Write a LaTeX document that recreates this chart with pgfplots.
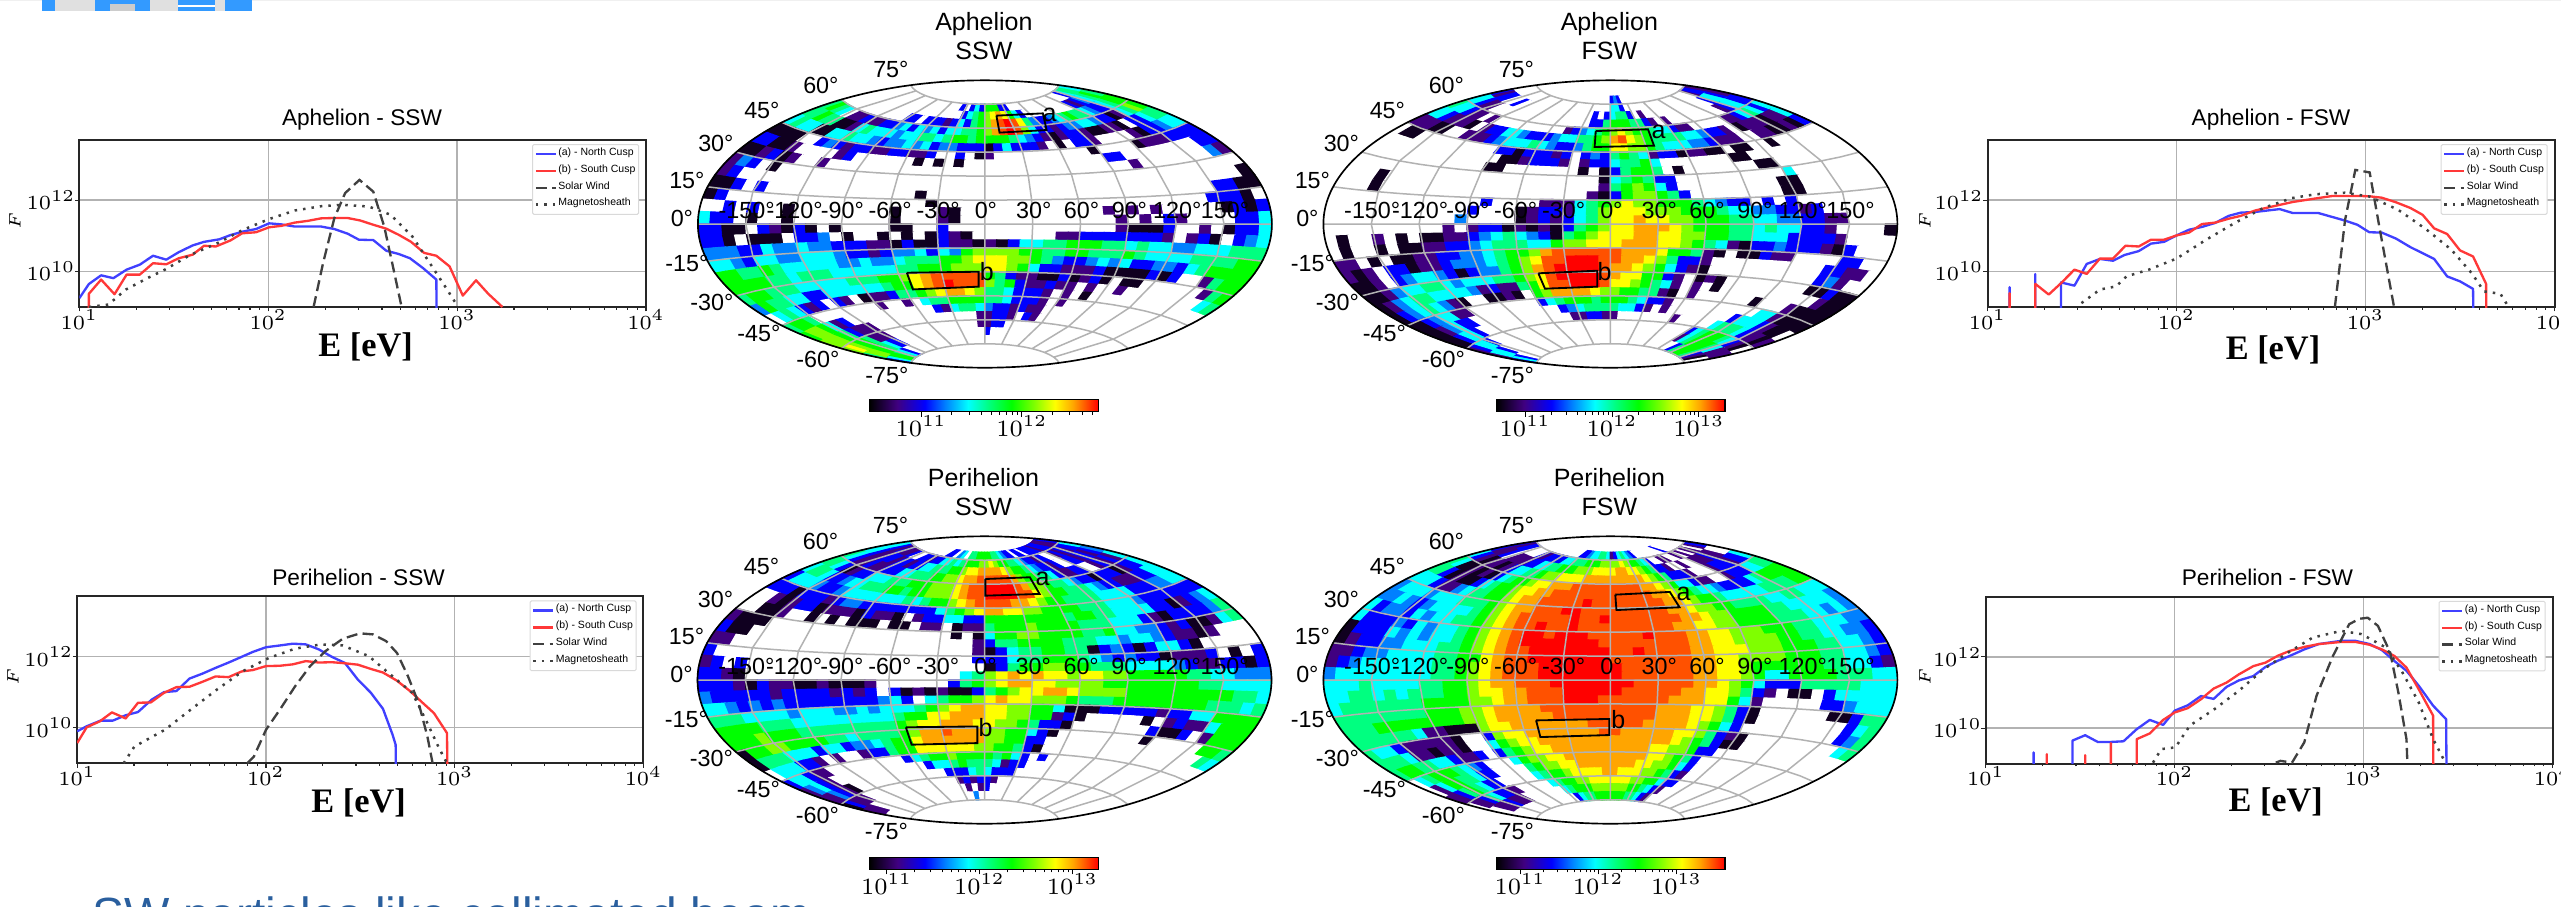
\documentclass[border=0pt]{standalone}
\usepackage{fontspec}
\usepackage{pgfplots}
\usepackage{pgfplotstable}
\pgfplotsset{compat=1.18}
\setmainfont{Liberation Sans}
\newfontfamily\ebold{Liberation Serif}[BoldFont={Liberation Serif Bold}]
\definecolor{gridg}{RGB}{178,178,178}
\definecolor{cbl}{RGB}{64,64,255}
\definecolor{crd}{RGB}{255,56,56}
\definecolor{cdk}{RGB}{64,64,64}
\definecolor{pp}{RGB}{64,0,128}
\definecolor{az}{RGB}{0,128,255}
\definecolor{sp}{RGB}{0,255,128}
\definecolor{lm}{RGB}{128,255,0}
\definecolor{og}{RGB}{255,165,0}
\definecolor{sw}{RGB}{42,95,158}
\pgfdeclarehorizontalshading{cbar}{100bp}{color(0bp)=(black); color(25bp)=(black); color(31bp)=(pp); color(37bp)=(blue); color(41.5bp)=(az); color(46.5bp)=(cyan); color(51bp)=(sp); color(56bp)=(green); color(61bp)=(lm); color(65.5bp)=(yellow); color(69.5bp)=(og); color(75bp)=(red); color(100bp)=(red)}
\pgfplotsset{colormap={lev}{rgb255=(255,255,255) rgb255=(16,0,32) rgb255=(64,0,128) rgb255=(0,0,255) rgb255=(0,128,255) rgb255=(0,255,255) rgb255=(0,255,128) rgb255=(0,255,0) rgb255=(128,255,0) rgb255=(255,255,0) rgb255=(255,165,0) rgb255=(255,80,0) rgb255=(255,0,0)}}
% Aitoff projection, normalised to the unit box: lon #1, lat #2
\def\aitxy#1#2{\pgfmathsetmacro\aC{min(0.99999,cos(#2)*cos(#1/2))}\pgfmathsetmacro\aA{acos(\aC)}\pgfmathsetmacro\aK{rad(\aA)/sin(\aA)}\pgfmathsetmacro\ax{2*cos(#2)*sin(#1/2)*\aK/pi}\pgfmathsetmacro\ay{2*sin(#2)*\aK/pi}}
% projected vertices of the 7.5 x 5 degree grid (one quadrant, the rest by symmetry)
\newcount\ci \newcount\cj
\ci=0
\loop
 {\cj=0
 \loop
  \aitxy{7.5*\the\ci}{5*\the\cj}%
  \expandafter\xdef\csname gx\the\ci,\the\cj\endcsname{\ax}%
  \expandafter\xdef\csname gy\the\ci,\the\cj\endcsname{\ay}%
  \advance\cj 1
 \ifnum\cj<17 \repeat}%
 \advance\ci 1
\ifnum\ci<25 \repeat
% graticule as one table, lines separated by nan
\newtoks\gtoks \gtoks{x y\\}
\def\gadd{\edef\tmp{\the\gtoks\ax\space\ay\noexpand\\}\gtoks\expandafter{\tmp}}
\def\gbreak{\gtoks\expandafter{\the\gtoks nan nan\\}}
\foreach \la in {-75,-60,-45,-30,-15,0,15,30,45,60,75}{\foreach \lo in {-180,-165,...,180}{\aitxy{\lo}{\la}\gadd\global\gtoks\gtoks}\gbreak\global\gtoks\gtoks}
\foreach \lo in {-150,-120,-90,-60,-30,0,30,60,90,120,150}{\foreach \la in {-75,-60,...,75}{\aitxy{\lo}{\la}\gadd\global\gtoks\gtoks}\gbreak\global\gtoks\gtoks}
\edef\tmp{\noexpand\pgfplotstableread[row sep=crcr]{\the\gtoks}\noexpand\gratT}\tmp
% ---- rows of colour levels (0 blank, 1 black ... 12 red); lon -180..180 in 7.5 deg, lat 80..-80 in 5 deg
\newcount\cellc \newcount\rowc \newtoks\ltoks
\def\Addcell#1{\ifnum\cellc<24 \def\sx{-}\ci=\numexpr24-\cellc\relax\else\def\sx{}\ci=\numexpr\cellc-24\relax\fi
 \ifnum\rowc>16 \def\sy{-}\cj=\numexpr\rowc-16\relax\else\def\sy{}\cj=\numexpr16-\rowc\relax\fi
 \edef\tmp{\the\ltoks\sx\csname gx\the\ci,\the\cj\endcsname\space\sy\csname gy\the\ci,\the\cj\endcsname\space #1\noexpand\\}\ltoks\expandafter{\tmp}\advance\cellc 1 }
\def\Rscan#1 {\ifx\relax#1\let\next\Rpad\else\ifnum\cellc<48 \Addcell{#1}\fi\let\next\Rscan\fi\next}
\def\Rpad{\ifnum\cellc<49 \Addcell{0}\expandafter\Rpad\else\advance\rowc 1 \fi}
\def\R#1{\cellc=0 \Rscan#1 \relax }
\def\Rstart{\ltoks{x y c\\}\rowc=0 }
\def\Rstore#1{\R{0}\edef\tmp{\noexpand\pgfplotstableread[row sep=crcr]{\the\ltoks}\noexpand#1}\tmp}
\Rstart
\R{0}
\R{0 0 0 0 0 0 0 0 0 0 0 0 0 0 0 0 0 0 0 3 0 3 5 3 7 7 7 3 3 0 0 0 0 0 0 0 0 0 0 0 0 0 0 3 5 6 6 5}
\R{0 0 0 0 0 0 0 0 0 0 0 0 0 0 0 0 0 0 0 0 3 5 6 7 8 9 10 9 7 5 3 0 0 0 0 0 0 0 0 0 3 2 3 4 5 6 7 6}
\R{0 0 0 0 0 0 0 0 0 0 0 0 3 3 0 3 3 3 2 3 5 3 6 7 8 10 11 12 11 9 6 4 3 3 4 5 6 7 6 6 5 4 3 3 5 6 7 7}
\R{6 7 6 5 0 2 2 3 2 2 3 3 4 5 3 5 4 5 3 5 5 6 6 7 8 10 11 12 11 8 5 3 3 2 3 4 4 5 5 4 3 3 1 2 5 6 8 7}
\R{6 6 7 6 6 1 1 2 5 6 5 5 5 4 5 5 6 6 5 6 7 7 6 7 7 7 7 6 5 4 3 2 1 2 3 3 2 1 1 2 2 1 0 3 3 5 6 6}
\R{5 6 5 5 1 1 5 5 6 5 5 4 3 4 4 5 4 5 3 4 4 3 3 3 1 3 5 3 3 3 2 0 1 0 3 3 2 0 0 0 0 2 1 3 3 4 5 5}
\R{1 1 1 1 0 0 3 4 3 2 3 3 2 2 3 3 2 2 3 0 0 3 0 1 2 0 0 0 0 0 0 0 0 0 0 1 0 0 0 0 1 2 2 2 3 3 3 3}
\R{3 3 1 1 2 0 0 0 0 2 3 0 0 0 0 0 0 1 0 1 0 1 0 0 0 0 0 0 0 0 0 0 0 0 0 0 3 3 0 0 0 0 0 0 0 0 3 3}
\R{1 1 2 3 1 2 0 0 2 0 0 0 0 0 0 0 0 0 0 0 0 0 0 0 0 0 0 0 0 0 0 0 0 0 0 0 0 0 2 0 0 0 0 0 0 0 4 2}
\R{2 4 3 0 1 0}
\R{2 3 0 0 0 0 0 0 0 0 0 0 0 0 0 0 0 0 0 0 0 0 0 0 0 0 0 0 0 0 0 0 0 0 0 0 0 0 0 0 0 0 0 0 0 0 0 1}
\R{1 1 3 0 3 0 0 0 0 0 0 0 0 0 0 0 0 0 1 0 0 0 0 0 0 0 0 0 0 0 0 0 0 0 0 0 0 0 0 0 0 0 0 0 3 3 1 1}
\R{1 3 0 0 0 0 0 0 0 0 0 0 0 0 0 0 0 0 0 1 0 0 0 0 0 0 0 0 0 0 0 0 0 0 0 0 0 0 0 0 0 0 0 3 3 3 1 0}
\R{0 0 3 0 3 0 0 1 0 0 0 0 0 0 0 0 1 0 0 0 2 1 0 0 0 0 0 0 0 0 0 0 0 0 2 0 2 0 2 0 0 0 0 0 1 3 1 3}
\R{5 3 3 0 1 0 0 1 0 0 0 0 0 0 0 0 1 0 0 0 2 1 0 0 0 0 0 0 0 0 0 0 0 0 0 2 0 2 0 3 2 0 0 0 0 3 3 5}
\R{3 3 1 1 0 3 2 1 3 1 0 1 0 0 0 0 1 1 0 0 3 0 0 0 0 0 0 0 0 0 0 0 0 0 0 2 1 1 1 3 0 0 2 0 1 3 3 5}
\R{3 3 1 0 1 1 1 0 3 3 4 0 1 0 0 1 0 1 0 1 3 2 1 0 0 0 0 0 0 0 2 2 3 3 3 3 3 3 3 2 0 2 3 1 0 3 4 5}
\R{4 4 4 3 3 5 4 4 5 4 4 3 3 3 2 2 1 3 1 1 3 2 2 1 2 1 3 5 5 6 6 7 7 7 6 6 5 6 5 5 4 4 5 5 5 6 6 6}
\R{5 5 4 3 5 5 4 4 5 5 5 4 3 3 2 3 4 4 5 3 5 4 7 8 8 8 8 7 7 6 6 7 7 6 6 6 7 6 5 5 5 5 6 6 6 6 7 7}
\R{7 7 6 6 7 6 5 5 5 5 5 4 4 5 4 4 5 6 6 6 7 7 8 9 9 9 8 8 7 6 4 3 3 4 5 4 5 3 3 4 4 3 5 6 7 7 7 7}
\R{7 7 7 7 6 6 5 6 6 6 5 5 5 5 5 5 6 6 7 7 7 8 8 8 9 9 8 7 5 3 3 2 2 2 3 1 1 1 1 3 1 3 0 0 2 6 7 7}
\R{6 7 7 6 6 6 5 5 5 5 5 6 6 6 7 7 8 9 10 11 11 11 11 11 7 6 3 2 2 1 1 3 1 2 3 1 0 1 1 0 0 0 0 0 0 2 6 7}
\R{4 7 6 6 5 5 3 3 5 5 5 5 5 5 6 7 7 9 10 11 12 11 11 11 8 6 7 3 2 2 3 2 2 0 2 0 0 2 0 0 0 0 0 0 0 0 5 6}
\R{0 5 6 5 3 2 3 0 3 2 0 1 2 2 3 6 6 7 8 9 10 10 9 8 6 6 5 3 3 3 2 0 2 0 1 0 0 0 0 0 0 0 0 0 0 0 0 0}
\R{6 7 7 6 0 0 0 0 0 0 0 0 2 0 0 2 0 5 6 6 7 7 7 7 6 6 5 3 3 3 2 0 2}
\R{7 8 8 7 5 2 3 0 0 0 0 0 0 0 0 0 0 0 3 2 5 6 6 5 4 3 3 2 3 2 2}
\R{8 8 8 7 6 3 2 2 2 0 0 0 0 0 0 0 0 0 0 0 0 0 0 2 2 3 3 2 0 3 2}
\R{8 9 8 7 7 6 2 2 2 0 0 0 0 0 0 0 0 0 0 0 0 0 0 2 2 3 3}
\R{6 8 8 7 7 6 5 3 3 0 0 0 0 0 0 0 0 0 0 0 0 0 0 0 3}
\R{3 5 7 7 6 5 3}
\R{0 3 6 7 5 3 0 0 0 0 0 0 0 0 0 0 0 0 0 0 0 0 0 0 0 0 0 0 0 0 0 0 0 3 3}
\Rstore{\mapA}
\Rstart
\R{0 0 0 0 0 0 0 0 0 0 0 0 0 0 0 0 0 0 0 0 0 0 0 0 3 4 3}
\R{0 0 0 0 0 0 0 0 0 0 0 0 0 0 0 0 0 0 0 0 0 0 0 0 5 5 3 0 0 0 0 0 0 0 0 0 0 0 0 0 0 0 0 0 2 3 3 2}
\R{3 2 3 3 0 0 3 0 0 0 0 0 0 0 0 0 0 0 0 0 0 3 0 3 5 6 6 3 0 2 0 0 0 0 0 0 0 0 0 0 0 0 0 3 5 5 3 2}
\R{5 5 3 2 2 0 0 0 0 0 0 0 0 0 0 0 0 0 0 0 0 3 3 6 7 7 7 6 6 3 2 0 2 0 0 0 0 0 0 0 0 0 2 3 5 5 3 3}
\R{6 5 5 3 2 2 0 2 0 0 0 0 0 0 0 0 0 0 2 3 4 5 6 7 8 9 8 7 7 6 5 5 3 2 2 0 0 0 0 0 2 2 3 5 6 5 3 5}
\R{5 5 3 2 2 2 1 0 2 3 3 5 5 4 3 3 3 4 5 5 6 6 7 8 10 11 9 8 7 6 6 6 6 5 5 4 3 3 2 0 1 2 2 2 1 2 2 5}
\R{2 2 2 1 1 0 0 2 2 2 3 4 5 5 5 6 5 4 3 3 4 6 7 7 9 9 8 8 7 6 5 5 5 4 4 3 2 2 2 0 0 2 2 1 1 2 1 3}
\R{0 1 1 0 0 0 0 0 0 0 0 0 3 3 1 3 3 3 2 3 0 3 4 3 6 7 6 5 2 3 3 1 2 2 1 1 0 1 1 0 0 1 0 0 0 0 0 0}
\R{0 0 0 0 0 0 0 0 0 0 0 0 0 1 1 2 3 3 3 2 0 2 3 3 5 6 6 7 5 0 0 0 0 0 0 0 1 1}
\R{0 0 0 0 0 0 0 0 0 0 0 0 1 1 0 0 0 0 0 0 0 1 0 1 3 6 7 7 6 0 1 0 0 0 0 0 0 0 1 1}
\R{0 0 0 0 0 0 0 0 0 0 0 0 0 0 0 0 0 0 0 0 0 0 0 1 5 6 7 6 3 3 0 0 0 0 0 0 0 0 0 0 5}
\R{0 0 0 1 0 0 0 0 0 0 0 0 0 0 0 0 0 0 0 0 0 0 0 2 6 7 8 7 5 3 0 0 0 0 0 0 0 0 0 1 1}
\R{0 0 0 1 0 0 0 0 0 0 0 0 0 0 0 0 0 0 0 0 0 0 2 1 3 7 8 8 7 6 3 0 0 0 0 0 0 0 0 1 1}
\R{0 0 0 0 0 0 0 0 0 0 0 0 0 3 0 0 0 0 2 2 2 5 6 7 8 9 8 8 7 7 7 6 5 4 3 3 0 3 0 3}
\R{0 0 0 0 0 0 0 0 0 0 0 0 3 0 0 0 1 2 3 3 2 5 6 8 9 9 9 8 8 8 7 7 7 6 5 5 4 4 3 3 2 3}
\R{0 0 0 0 0 0 0 0 0 0 0 4 0 0 0 0 1 2 3 2 3 5 6 8 9 9 10 9 9 8 8 7 7 7 6 6 5 5 4 4 3 3 2 2}
\R{0 0 0 0 0 0 0 0 0 0 2 0 2 3 3 1 2 1 2 1 3 6 7 8 9 9 10 10 10 9 8 7 7 7 6 6 5 6 5 5 3 3 2 0 0 0 0 1}
\R{0 1 0 0 2 0 1 0 1 1 2 2 3 4 5 6 5 4 3 1 6 7 8 9 9 9 10 10 9 9 8 8 7 7 6 6 5 5 5 3 3 3 3 2}
\R{0 1 0 0 1 0 1 1 2 2 3 3 4 5 6 6 6 5 5 7 8 8 9 9 9 10 10 10 9 9 8 7 6 5 2 1 3 3 4 3 3 3 2 1 3}
\R{2 2 0 1 0 1 1 2 2 3 3 4 4 5 6 7 7 8 10 11 11 11 11 11 11 10 10 10 9 7 7 6 2 1 0 1 1 3 2 2 0 0 0 0 3 3}
\R{2 1 2 0 3 3 1 2 2 3 4 4 4 5 6 7 8 9 11 11 12 12 12 11 11 10 10 9 8 6 3 3 2 0 0 0 0 0 0 0 0 0 0 3 3 2 2}
\R{1 1 2 0 3 4 5 5 4 3 1 3 4 4 6 7 8 10 11 12 12 12 12 11 10 10 9 8 7 5 3 2 1 0 0 0 0 0 0 0 0 0 0 3 4 2}
\R{1 1 2 4 5 5 6 6 5 4 5 5 5 6 6 7 8 9 11 12 12 12 12 11 10 9 9 7 7 3 2 0 1 2 1 0 0 0 0 0 0 0 0 1 1 3 1 1}
\R{1 2 4 5 6 6 5 5 5 5 4 2 3 2 2 6 7 9 11 11 12 12 12 11 9 9 8 7 6 5 2 0 2 0 1 0 0 0 0 0 0 0 0 0 0 2 1 1}
\R{1 3 4 5 6 5 4 2 1 0 0 1 1 2 1 0 7 8 10 10 10 10 9 8 8 7 7 6 6 2 1 0 2 0 0 0 0 0 0 1 0 0 0 2 1 1 1 1}
\R{1 1 3 4 5 5 2 2 0 0 0 0 0 0 0 0 3 5 6 7 7 7 6 7 7 7 6 5 3 3 2 0 0 0 0 0 0 0 0 0 0 5 5 2 1 1 1 1}
\R{1 1 2 4 5 3 3 0 0 0 0 0 0 0 0 0 0 0 3 4 5 6 6 6 6 5 5 3 2 0 2 0 0 0 0 0 0 0 0 3 5 5 5 3 2 1 1 0}
\R{1 1 3 5 5 3 0 0 0 0 0 0 0 0 0 0 0 0 0 2 2 3 3 2 2 0 0 0 0 0 0 0 2 0 0 0 0 0 5 6 6 6 5 3 2 2 1 2}
\R{2 3 5 5 3 0 0 0 0 0 0 0 0 0 0 0 0 0 0 0 0 0 0 0 0 0 0 0 0 0 0 0 0 0 0 0 3 5 6 7 7 7 6 5 3 2 1 0}
\R{2 5 5 3 0 0 0 0 0 0 0 0 0 0 0 0 0 0 0 0 0 0 0 0 0 0 0 0 0 0 0 0 0 0 0 0 2 5 6 7 7 7 7 6 5 2 2 2}
\R{3 5 3 0 0 0 0 0 0 0 0 0 0 0 0 0 0 0 0 0 0 0 0 0 0 0 0 0 0 0 0 0 0 0 0 0 0 0 3 6 7 7 7 6 3 2 1 0}
\R{0 0 0 0 0 0 0 0 0 0 0 0 0 0 0 0 0 0 0 0 0 0 0 0 0 0 0 0 0 0 0 0 0 0 0 0 0 0 0 0 2 2 7 6 3}
\Rstore{\mapB}
\Rstart
\R{0 0 0 0 0 0 0 0 0 0 0 0 0 0 3 3 0 4 5 0 6 6 7 7 7 7 6 6 5 4 3 3 0 3 3 0 3 3 3 3 2 3 3 3 2 2 2 3}
\R{5 5 3 2 3 2 2 3 0 0 3 3 2 3 3 5 5 6 5 6 7 7 7 8 8 9 8 7 7 6 6 5 4 3 3 2 3 3 0 0 2 3 2 3 2 3 3 5}
\R{5 5 3 2 2 3 3 2 3 3 2 3 3 5 5 6 6 6 7 7 8 9 9 10 10 10 10 9 8 7 7 6 5 4 3 3 2 3 0 0 3 3 2 3 3 2 3 4}
\R{6 5 3 2 2 3 2 2 3 3 3 5 5 6 6 6 7 7 8 8 9 10 10 11 11 11 11 11 10 8 7 7 6 6 5 3 2 2 3 3 0 0 2 3 2 3 2 5}
\R{6 6 5 3 1 2 3 3 5 5 5 6 6 6 7 7 7 8 8 8 9 10 11 11 12 12 12 12 11 10 8 8 7 6 6 5 4 3 3 1 3 3 3 1 2 3 3 5}
\R{5 6 6 5 3 3 4 5 5 6 6 6 7 7 6 7 7 8 8 8 9 10 11 11 12 12 12 12 11 11 9 8 7 7 6 6 6 5 4 3 3 2 2 2 3 3 5 5}
\R{3 5 5 5 4 3 3 4 5 5 5 5 5 5 5 6 5 6 7 7 8 9 10 11 11 11 11 10 10 9 8 7 7 6 6 6 6 5 5 5 5 3 3 3 4 4 5 5}
\R{3 3 3 1 3 3 3 2 3 4 4 3 3 3 3 3 3 3 3 5 6 7 8 9 10 10 9 9 8 8 7 7 7 7 6 6 6 5 5 5 4 3 3 3 3 3 3 3}
\R{0 0 2 1 2 3 3 1 2 2 2 1 3 2 2 1 0 2 3 3 5 5 3 3 7 7 7 7 7 7 7 7 6 7 7 6 6 5 5 5 5 3 3 1 2 3 4 5}
\R{0 0 1 1 2 0 0 1 0 1 0 1 1 1 0 1 1 0 2 2 0 1 2 2 6 7 7 7 8 7 7 7 7 6 6 6 5 5 5 3 2 1 3 3 3 3 4 6}
\R{2 1 1 1 0 0 0 0 0 0 0 0 0 0 0 0 0 0 0 0 0 1 0 1 5 7 7 8 8 7 7 7 7 6 6 7 5 5 4 4 3 2 3 1 1 2 5 6}
\R{3 1 1 0 0 0 0 0 0 0 0 0 0 0 0 0 0 0 0 0 0 0 0 2 3 6 6 7 7 7 7 6 6 6 5 5 4 5 5 4 3 2 2 1 2}
\R{2 2 0 0 0 0 0 0 0 0 0 0 0 0 0 0 0 0 0 0 0 0 0 2 1 3 5 6 6 7 7 6 6 1 3 4 3 1 3 5 5 3 1}
\R{3 0 0 0 0 0 0 0 0 0 0 0 0 0 0 0 0 0 0 0 0 0 0 3 3 3 5 6 6 7 7 7 6 5 4 3 4 3 3 1 2 2 2 3 0 1 0 3}
\R{2 3 0 3 0 0 0 0 0 0 0 0 0 0 0 0 0 0 0 0 0 0 0 0 1 3 6 7 7 8 8 7 7 6 6 6 5 5 5 5 4 3 2 2 3 3 1 3}
\R{3 3 2 1 0 0 0 0 0 0 0 0 0 0 0 0 0 0 0 0 0 0 5 6 8 9 10 9 10 9 9 8 9 9 8 8 7 7 7 7 7 6 6 5 5 4 4 4}
\R{3 3 3 2 1 3 2 2 1 1 2 1 1 1 2 0 0 0 0 0 0 3 6 7 8 9 10 10 9 9 8 8 8 8 7 7 7 7 7 7 7 7 6 6 5 5 5 5}
\R{4 3 3 3 3 3 2 3 3 3 3 2 3 2 3 0 3 1 2 1 2 1 1 3 6 7 8 9 9 10 10 9 8 8 8 8 7 7 7 7 7 7 7 7 7 6 6 5}
\R{5 5 4 3 4 3 4 3 3 3 3 3 3 3 3 4 5 3 0 5 6 7 7 8 9 10 9 9 8 8 8 7 6 6 6 7 7 7 7 7 7 7 7 6 6 6 5 6}
\R{6 6 6 5 5 5 5 4 5 5 5 4 4 5 4 5 5 5 6 7 8 9 10 10 9 9 8 8 7 7 5 1 1 1 3 3 3 3 3 2 3 3 5 5 7 7 7 7}
\R{7 7 7 7 6 6 6 5 5 5 5 5 5 5 5 5 6 7 7 9 9 10 10 10 9 9 8 8 7 7 2 3 1 0 0 0 0 0 1 0 2 3 2 2 5 7 7 7}
\R{7 7 7 8 7 7 7 6 6 6 6 6 6 6 6 6 7 8 9 9 10 10 10 9 9 8 8 7 6 3 3 1 0 0 0 0 0 0 0 3 1 1 3 0 2 7 7 7}
\R{1 7 7 8 8 7 7 7 7 6 6 5 6 6 6 6 7 8 10 10 11 10 10 10 8 8 7 7 5 3 1 0 0 0 0 0 0 0 0 1 0 0 0 0 0 7 7 6}
\R{1 6 6 6 5 5 5 3 5 5 3 4 4 5 6 7 7 9 10 10 10 10 10 10 8 8 7 7 3 3 0 0 0 0 0 0 0 0 0 0 0 0 0 0 0 0 6 5}
\R{0 5 5 5 3 3 2 0 2 0 0 2 3 3 6 7 7 9 9 9 9 9 9 8 8 7 7 6 3 1}
\R{3 5 5 3 2 2 0 0 0 0 0 0 0 0 0 3 5 6 7 7 8 7 7 7 7 6 7 5 3 0 3}
\R{2 4 5 3 2 0 0 0 0 0 0 0 0 0 0 0 0 3 5 5 6 7 6 6 6 5 2 3 3}
\R{2 2 4 3 2 1 0 0 0 0 0 0 0 0 0 0 0 0 0 3 3 3 5 6 5 3 3 3}
\R{1 3 2 2 2 0 0 0 0 0 0 0 0 0 0 0 0 0 0 0 2 3 2 3 3 2}
\R{2 2 2 0 0 0 0 0 0 0 0 0 0 0 0 0 0 0 0 0 0 2 0 2 3}
\R{0 0 0 0 0 0 0 0 0 0 0 0 0 0 0 0 0 0 0 0 0 0 4}
\R{0}
\Rstore{\mapC}
\Rstart
\R{0 0 0 0 0 0 0 0 0 0 0 0 0 0 0 0 3 3 4 5 5 6 6 5 2 3 5 6 5 4 3 0 0 0 0 0 0 0 0 3}
\R{3 2 3 3 0 0 0 0 3 2 3 3 3 3 5 5 6 6 6 7 7 7 8 8 8 8 9 8 7 7 6 5 3 0 0 2 2 0 0 2 0 2 0 2 2 0 2 3}
\R{3 2 2 3 0 2 2 2 2 3 3 5 5 6 6 7 7 7 8 8 8 9 9 9 9 10 10 9 9 8 7 6 3 3 2 0 0 2 0 0 2 2 2 3 2 2 0 0}
\R{5 3 2 1 2 2 1 2 3 5 5 6 6 7 8 8 9 9 9 9 10 10 10 10 10 10 10 10 10 9 8 7 6 3 3 3 2 0 0 0 2 3 3 3 2 3 3 5}
\R{6 5 1 1 2 1 2 1 3 5 6 7 7 8 9 9 10 10 10 11 11 11 11 11 11 11 11 11 10 10 9 8 7 5 5 3 2 2 0 0 2 3 3 3 5 5 6 6}
\R{6 6 3 1 2 1 1 3 5 6 7 7 8 9 9 10 10 11 11 11 11 11 11 11 11 11 11 11 11 10 10 9 8 7 6 5 5 4 3 3 3 3 5 6 7 7 7 7}
\R{5 5 5 3 2 2 4 5 6 6 7 7 8 9 10 10 11 11 11 11 11 12 11 11 11 11 11 11 11 11 10 10 9 8 7 7 6 5 5 5 5 5 6 6 6 6 7 7}
\R{4 5 5 5 4 5 5 5 6 6 6 7 8 9 10 10 11 11 11 12 12 11 11 11 11 11 11 11 11 11 10 10 9 8 8 7 7 6 6 6 6 5 5 6 6 5 5 5}
\R{4 4 5 4 3 4 5 5 5 5 6 7 8 9 10 11 11 11 11 11 12 11 11 12 11 11 11 11 11 11 11 10 10 9 8 8 7 7 7 7 6 6 5 5 5 5 5 4}
\R{5 3 4 4 3 5 4 5 5 6 6 7 8 9 10 11 11 12 11 11 12 11 11 11 11 11 11 11 11 11 10 10 9 9 8 8 7 7 7 7 6 6 6 5 5 4 5 4}
\R{5 3 3 3 4 3 5 4 5 5 6 7 8 9 10 11 12 12 11 12 12 12 11 11 11 11 11 12 11 11 11 10 10 9 9 8 8 8 7 7 7 6 6 5 5 5 4 4}
\R{1 3 3 3 5 4 5 4 5 5 6 7 8 9 10 11 12 12 12 12 12 12 12 11 11 11 11 11 11 11 11 10 10 9 9 8 8 8 8 7 7 6 6 5 5 4 4 3}
\R{1 2 3 3 4 4 5 5 5 6 6 7 8 9 10 11 11 12 12 12 12 12 12 12 11 11 12 11 11 11 11 10 10 9 9 9 8 8 8 7 7 7 6 6 5 5 4 3}
\R{2 2 3 4 4 5 5 5 5 6 6 7 7 9 10 11 11 12 12 12 12 12 12 12 11 11 11 11 11 11 11 10 10 9 9 8 8 8 8 7 7 7 6 6 5 5 4 3}
\R{2 3 4 5 5 5 5 5 5 6 6 7 8 9 10 11 11 11 12 12 12 12 12 12 12 11 11 11 11 11 11 10 10 9 9 8 7 7 7 7 7 7 6 6 5 5 3 2}
\R{4 5 5 5 5 5 5 5 5 6 6 7 8 9 10 11 11 11 12 12 12 12 12 12 12 11 11 11 11 11 11 10 10 9 9 8 7 5 5 7 7 7 7 6 6 6 5 5}
\R{5 5 5 6 5 5 5 5 6 6 7 7 8 9 10 10 11 11 11 12 12 12 12 12 12 12 11 11 11 11 11 10 10 9 8 7 5 3 3 3 6 6 6 6 6 5 5 5}
\R{5 5 6 6 5 6 5 6 6 6 7 7 8 9 9 10 10 11 11 11 12 12 12 12 12 11 11 11 11 11 10 10 9 9 8 6 3 2 0 1 1 0 3 5 5 5 5 5}
\R{5 6 6 6 6 6 6 6 7 7 7 7 8 8 9 10 10 11 11 11 12 12 12 11 11 11 11 11 11 10 10 10 9 9 7 5 2 0 0 0 0 0 3 3 4 5 5 5}
\R{6 6 6 6 6 6 6 6 7 7 7 8 8 9 10 10 10 10 11 11 11 11 11 11 11 11 11 11 10 10 10 9 9 8 6 3 1 0 0 0 0 0 0 1 1 3 6 6}
\R{6 6 6 7 7 7 7 7 7 7 7 8 8 9 10 10 10 10 10 11 11 11 11 11 11 11 11 11 10 10 10 9 9 8 6 3 1 0 0 0 0 0 0 0 0 3 5 6}
\R{6 6 6 6 6 6 5 2 2 1 1 1 8 9 9 10 10 10 10 10 10 10 11 11 11 11 11 10 10 10 10 9 8 7 5 3 0 0 0 0 0 0 0 0 0 3 4 6}
\R{6 5 5 3 2 2 2 2 2 1 0 0 3 8 9 9 10 10 10 10 10 10 10 11 11 10 10 10 10 10 9 9 8 6 3 2 1 0 0 0 0 0 0 0 0 0 5 6}
\R{6 6 6 5 2 2 1 2 2 1 0 0 5 7 8 9 9 10 10 10 10 10 10 10 10 10 10 10 10 10 9 8 7 6 3 1 1}
\R{6 7 7 6 6 5 5 3 2 2 3 0 3 6 7 8 9 9 10 10 10 10 10 10 10 10 10 10 9 9 8 8 7 3 3}
\R{0 5 6 7 7 7 6 5 4 3 0 0 0 5 7 8 8 9 9 10 10 10 10 10 10 10 10 10 9 9 8 7 6 3}
\R{0 2 5 7 7 6 6 5 3 3 0 0 0 0 6 7 8 8 9 9 10 10 10 10 10 10 10 9 9 8 8 7 5 3}
\R{2 2 3 6 7 6 5 3 3 0 0 0 0 0 5 6 7 7 8 9 9 9 9 10 10 9 9 9 8 8 7 6 3 2}
\R{0 2 2 3 6 5 3 3 2 2 0 0 0 0 0 5 6 7 7 8 8 9 9 9 9 9 9 8 8 7 7 5 3 3}
\R{0 0 2 2 2 3 2 2 2 0 0 0 0 0 0 0 5 6 7 7 7 8 8 8 8 8 8 7 7 6 5 3 2}
\R{0 0 0 0 0 0 0 0 0 0 0 0 0 0 0 0 0 3 5 6 6 7 7 7 7 7 7 6 6 5 3 2}
\R{0 0 0 0 0 0 0 0 0 0 0 0 0 0 0 0 0 0 0 3 3 5 5 6 6 5 5 3 3}
\Rstore{\mapD}
\pgfplotsset{
 table/lg/.style={header=false,x expr={pow(10,\thisrowno{0})},y expr={pow(10,\thisrowno{1})}},
 serbl/.style={color=cbl,line width=.7pt,line join=round},
 serrd/.style={color=crd,line width=.7pt,line join=round},
 serdk/.style={color=cdk,line width=.7pt,dash pattern=on 3.3pt off 1.6pt},
 serdt/.style={color=cdk,line width=.75pt,dash pattern=on .75pt off 1.8pt},
}
\newcommand\LA[3]{\begin{axis}[at={(#2*0.3pt,-#3*0.3pt)},anchor=south west,scale only axis,width=#1*0.3pt,height=167*0.3pt,
  xmode=log,ymode=log,xmin=10,xmax=10000,ymin=1e9,ymax=4.9e13,
  xtick={10,100,1000,10000},ytick={1e10,1e12},yminorticks=false,
  xtick pos=left,ytick pos=left,
  grid=major,grid style={color=gridg,line width=.45pt},
  axis line style={line width=.6pt,color=black!85},
  tick align=outside,tick style={color=black!85,line width=.35pt},
  major tick length=1.3pt,minor tick length=.8pt,
  tick label style={font=\fontsize{6.4}{7}\selectfont},
  xticklabel style={yshift=.6pt},yticklabel style={xshift=.3pt},
  legend cell align=left,
  legend image code/.code={\draw[##1] (0pt,0pt) -- (6pt,0pt);},
  legend style={at={(0.988,0.975)},anchor=north east,font=\fontsize{3.15}{3.7}\selectfont,
   draw=black!15,fill=white,rounded corners=.4pt,line width=.3pt,row sep=.45pt,inner sep=.6pt,
   nodes={inner sep=.4pt}}]}
\newcommand\CB[4]{\begin{axis}[at={(#3*0.3pt,-#4*0.3pt)},anchor=south west,scale only axis,width=228.5*0.3pt,height=12*0.3pt,
  xmode=log,xmin=#1,xmax=#2,ytick=\empty,ymin=0,ymax=1,
  axis background/.style={shading=cbar},
  xtick={1e11,1e12,1e13},tick align=outside,xtick pos=left,
  axis line style={line width=.45pt},tick style={line width=.3pt,color=black},
  major tick length=1.5pt,minor tick length=.9pt,
  tick label style={font=\fontsize{6.6}{7}\selectfont},xticklabel style={yshift=.4pt}]\end{axis}}
\newcommand\EV[2]{\node at (#1,#2) {\ebold\bfseries\fontsize{10.3}{12}\selectfont E [eV]};}
\newcommand\LT[3]{\node at (#1,#2) {\fontsize{6.8}{8}\selectfont #3};}
\newcommand\FL[2]{\node[rotate=90] at (#1,#2) {\fontsize{5}{6}\selectfont $F$};}
% one Aitoff map: centre x, centre y, table, two title lines, box a, label a, box b, label b
\newcommand\drawmap[9]{%
\begin{axis}[at={(#1*0.3pt,-#2*0.3pt)},anchor=center,scale only axis,width=574*0.3pt,height=287.4*0.3pt,
  xmin=-1,xmax=1,ymin=-1,ymax=1,hide axis,clip=false,colormap name=lev,
  point meta min=0,point meta max=12]
 \addplot[surf,shader=flat corner,mesh/cols=49,mesh/ordering=x varies,mesh/check=false,point meta=explicit]
   table[x=x,y=y,meta=c]{#3};
 \addplot[color=gridg,line width=.45pt,unbounded coords=jump] table[x=x,y=y]{\gratT};
 \draw[line width=.5pt] (axis cs:0,0) ellipse [x radius=1,y radius=1];
 \addplot[black,line width=.55pt] coordinates {#6};
 \addplot[black,line width=.55pt] coordinates {#8};
 \node[font=\fontsize{7.5}{8}\selectfont] at (axis cs:#7) {a};
 \node[font=\fontsize{7.5}{8}\selectfont] at (axis cs:#9) {b};
\end{axis}
\node[align=center,font=\fontsize{7.5}{8.6}\selectfont] at (#1-1,#2-188) {#4\\#5};
\foreach \dx/\dy/\t in {-94/-155/75,-164/-139/60,-223/-114/45,-269/-81/30,-298/-44/15,-303/-6/0,-298/39/-15,-273/78/-30,-226/109/-45,-167/135/-60,-98/151/-75}
 {\node[font=\fontsize{7}{8}\selectfont] at (#1+\dx,#2+\dy) {\t°};}
\foreach \lo in {-150,-120,-90,-60,-30,0,30,60,90,120,150}
 {\node[font=\fontsize{7}{8}\selectfont] at ({#1+\lo*1.5944+1},#2-14) {\lo°};}
}
\begin{document}
\begin{tikzpicture}[x=0.3pt,y=-0.3pt,inner sep=0pt]
\path[use as bounding box] (0,0) rectangle (2561,906);
\clip (0,0) rectangle (2561,906);
\fill[black!6] (0,0) rectangle (2561,1);
% logo remnant
\fill[az!80] (42,0) rectangle (252,11);
\fill[black!12] (55,0) rectangle (95,11);
\fill[black!20] (110,4) rectangle (135,11);
\fill[black!12] (150,0) rectangle (178,11);
\fill[white] (178,5) rectangle (215,7);
\fill[black!12] (215,0) rectangle (225,11);
\node[anchor=base west,text=sw,font=\fontsize{14.4}{16}\selectfont] at (92,931) {SW particles like collimated beam};
%
\LA{566.6}{79.4}{307}
\addplot[serbl] table[lg]{
1.00 9.25
1.05 9.645
1.115 9.89
1.18 9.81
1.25 10.05
1.32 10.19
1.39 10.44
1.46 10.33
1.526 10.54
1.60 10.73
1.66 10.83
1.74 10.90
1.80 11.02
1.867 11.12
1.935 11.19
2.005 11.35
2.07 11.32
2.14 11.26
2.21 11.26
2.28 11.26
2.35 11.19
2.42 11.06
2.48 10.89
2.556 10.88
2.625 10.58
2.69 10.49
2.75 10.37
2.82 10.09
2.89 9.77
2.892 8
};
\addplot[serrd] table[lg]{
1.05 8
1.05 9.37
1.115 9.77
1.186 9.36
1.25 9.91
1.32 9.91
1.39 10.23
1.46 10.20
1.526 10.37
1.60 10.47
1.66 10.72
1.722 10.70
1.80 10.87
1.862 11.07
1.935 11.10
2.005 11.24
2.07 11.28
2.14 11.37
2.21 11.42
2.28 11.49
2.35 11.50
2.42 11.50
2.487 11.43
2.556 11.31
2.625 11.20
2.69 11.03
2.756 10.83
2.825 10.52
2.89 10.44
2.96 10.14
3.03 9.32
3.10 9.75
3.165 9.37
3.24 9.0
};
\addplot[serdk] table[lg]{
2.24 9.0
2.29 10.23
2.35 11.5
2.407 12.2
2.483 12.57
2.556 12.24
2.614 11.26
2.66 10.14
2.706 9.0
};
\addplot[serdt] table[lg]{
1.05 9.0
1.154 9.07
1.246 9.49
1.36 9.81
1.453 10.05
1.59 10.47
1.73 10.79
1.867 11.17
2.005 11.47
2.14 11.71
2.28 11.83
2.395 11.87
2.533 11.82
2.648 11.59
2.763 10.98
2.878 10.05
2.947 9.49
3.005 9.0
};
\legend{(a) - North Cusp,(b) - South Cusp,Solar Wind,Magnetosheath}
\end{axis}
\LT{362}{120}{Aphelion - SSW}\EV{365.6}{347}\FL{15}{221}
%
\LA{567}{1987.5}{307}
\addplot[serbl] table[lg]{
1.117 8
1.117 9.56
1.117 8
1.253 8
1.253 9.925
1.253 8
1.389 8
1.389 9.69
1.46 9.60
1.525 10.21
1.595 10.35
1.664 10.30
1.724 10.46
1.80 10.57
1.865 10.78
1.934 10.83
2.0 11.01
2.066 11.17
2.135 11.25
2.204 11.36
2.276 11.56
2.34 11.65
2.416 11.67
2.546 11.75
2.615 11.64
2.75 11.64
2.89 11.43
2.957 11.31
3.02 11.10
3.086 11.09
3.162 10.92
3.238 10.68
3.363 10.35
3.432 9.86
3.50 9.72
3.569 9.51
3.573 8
};
\addplot[serrd] table[lg]{
1.117 8
1.117 9.39
1.117 8
1.253 8
1.253 9.65
1.324 9.35
1.389 9.67
1.46 10.05
1.525 9.93
1.595 10.36
1.664 10.36
1.73 10.72
1.80 10.70
1.865 10.89
1.934 10.89
2.0 11.01
2.066 11.09
2.135 11.33
2.204 11.37
2.276 11.48
2.34 11.56
2.416 11.71
2.48 11.79
2.615 11.95
2.75 12.06
2.827 12.12
2.957 12.12
3.02 12.11
3.086 12.07
3.162 11.94
3.238 11.78
3.302 11.59
3.363 11.21
3.432 11.05
3.50 10.59
3.569 10.42
3.638 9.65
3.64 8
};
\addplot[serdk] table[lg]{
2.838 9.0
2.892 11.45
2.946 12.85
3.022 12.78
3.076 11.17
3.151 9.0
};
\addplot[serdt] table[lg]{
1.497 9.11
1.595 9.49
1.681 9.58
1.735 9.86
1.854 10.05
2.0 10.36
2.157 10.89
2.308 11.36
2.459 11.78
2.611 12.06
2.74 12.17
2.892 12.21
3.022 12.10
3.173 11.73
3.324 11.17
3.454 10.61
3.562 9.95
3.627 9.44
3.714 9.37
3.757 9.0
};
\legend{(a) - North Cusp,(b) - South Cusp,Solar Wind,Magnetosheath}
\end{axis}
\LT{2271}{120}{Aphelion - FSW}\EV{2273}{350}\FL{1925}{221}
%
\LA{566.3}{77.2}{763.3}
\addplot[serbl] table[lg]{
1.0 9.90
1.05 10.04
1.124 10.2
1.189 10.2
1.257 10.35
1.322 10.44
1.395 10.79
1.46 11.0
1.526 11.03
1.595 11.38
1.664 11.52
1.733 11.68
1.802 11.83
1.871 11.99
1.931 12.13
2.0 12.26
2.074 12.31
2.143 12.36
2.211 12.34
2.28 12.2
2.349 11.99
2.418 11.82
2.487 11.35
2.556 10.98
2.62 10.53
2.671 9.80
2.687 9.52
2.69 8
};
\addplot[serrd] table[lg]{
1.0 9.57
1.05 10.01
1.12 10.18
1.184 10.43
1.257 10.26
1.322 10.70
1.39 10.71
1.46 10.98
1.526 11.14
1.595 11.15
1.664 11.29
1.733 11.44
1.802 11.42
1.871 11.58
1.931 11.62
2.0 11.73
2.074 11.74
2.143 11.78
2.211 11.87
2.28 11.83
2.349 11.84
2.418 11.81
2.487 11.77
2.556 11.65
2.62 11.55
2.694 11.32
2.763 11.03
2.832 10.69
2.89 10.41
2.959 9.85
2.963 8
};
\addplot[serdk] table[lg]{
1.901 9
1.936 9.19
2 9.94
2.074 10.51
2.154 11.16
2.234 11.73
2.315 12.15
2.407 12.5
2.499 12.65
2.568 12.62
2.637 12.43
2.694 12.1
2.752 11.45
2.809 10.69
2.855 9.76
2.883 9
};
\addplot[serdt] table[lg]{
1.246 9
1.303 9.47
1.464 9.94
1.602 10.51
1.74 11.07
1.878 11.59
2.016 11.96
2.154 12.22
2.292 12.34
2.407 12.31
2.545 12.01
2.66 11.49
2.775 10.98
2.855 10.13
2.913 9.47
2.959 9
};
\legend{(a) - North Cusp,(b) - South Cusp,Solar Wind,Magnetosheath}
\end{axis}
\LT{358.6}{577}{Perihelion - SSW}\EV{358.6}{803}\FL{13}{677}
%
\LA{566.7}{1985.8}{763.7}
\addplot[serbl] table[lg]{
1.253 8
1.253 9.32
1.253 8
1.459 8
1.459 9.65
1.526 9.80
1.593 9.61
1.658 9.61
1.729 9.63
1.799 9.97
1.868 10.23
1.939 10.09
2.0 10.49
2.069 10.64
2.139 10.90
2.206 10.82
2.275 11.16
2.34 11.34
2.416 11.46
2.481 11.72
2.545 11.89
2.61 12.03
2.686 12.21
2.762 12.36
2.881 12.45
2.957 12.45
3.032 12.36
3.097 12.19
3.162 11.89
3.227 11.61
3.292 11.19
3.368 10.63
3.437 10.25
3.44 8
};
\addplot[serrd] table[lg]{
1.323 8
1.323 9.27
1.323 8
1.526 8
1.526 9.24
1.526 8
1.662 8
1.662 9.58
1.662 8
1.799 8
1.799 9.69
1.868 9.85
1.939 10.23
2.0 10.44
2.069 10.56
2.139 10.81
2.206 11.11
2.275 11.28
2.34 11.51
2.416 11.74
2.481 11.84
2.545 12.03
2.61 12.17
2.686 12.28
2.762 12.36
2.881 12.42
2.957 12.42
3.032 12.34
3.097 12.21
3.162 12.03
3.227 11.70
3.292 11.09
3.368 10.35
3.37 8
};
\addplot[serdk] table[lg]{
2.535 9.03
2.56 9.08
2.621 9.03
2.686 9.6
2.751 10.91
2.838 12.03
2.924 12.92
2.978 13.07
3.022 13.10
3.076 12.87
3.141 12.12
3.184 11.0
3.227 9.69
3.232 9
};
\addplot[serdt] table[lg]{
1.885 9.03
1.929 9.41
2.004 9.46
2.08 10.07
2.21 10.53
2.34 11.05
2.47 11.65
2.6 12.12
2.73 12.54
2.881 12.73
2.989 12.64
3.119 12.26
3.206 11.56
3.292 10.72
3.368 9.69
3.433 9.03
};
\legend{(a) - North Cusp,(b) - South Cusp,Solar Wind,Magnetosheath}
\end{axis}
\LT{2267.5}{577}{Perihelion - FSW}\EV{2275.7}{801.7}\FL{1925}{677}
%
\drawmap{984.9}{224}{\mapA}{Aphelion}{SSW}{(.04,.754)(.202,.77)(.215,.654)(.051,.636)(.04,.754)}{.225,.76}{(-.272,-.339)(-.022,-.332)(-.022,-.436)(-.251,-.455)(-.272,-.339)}{.007,-.332}
\drawmap{1610.4}{224}{\mapB}{Aphelion}{FSW}{(-.051,.647)(.131,.659)(.152,.545)(-.055,.536)(-.051,.647)}{.168,.638}{(-.251,-.343)(-.046,-.325)(-.046,-.436)(-.228,-.45)(-.251,-.343)}{-.02,-.332}
\drawmap{984.5}{680}{\mapC}{Perihelion}{SSW}{(.003,.703)(.158,.715)(.192,.599)(.003,.587)(.003,.703)}{.202,.705}{(-.274,-.329)(-.025,-.323)(-.025,-.439)(-.254,-.45)(-.274,-.329)}{.004,-.33}
\drawmap{1610.4}{680}{\mapD}{Perihelion}{FSW}{(.017,.594)(.207,.613)(.241,.506)(.021,.487)(.017,.594)}{.255,.6}{(-.259,-.281)(-.004,-.271)(-.004,-.383)(-.244,-.397)(-.259,-.281)}{.028,-.276}
%
\CB{3.09e10}{5.75e12}{869.8}{411.7}
\CB{4.68e10}{2e13}{1496.5}{411.7}
\CB{6.6e10}{1.9e13}{869.8}{869.3}
\CB{5e10}{4.17e13}{1496.5}{869.3}
\end{tikzpicture}
\end{document}
